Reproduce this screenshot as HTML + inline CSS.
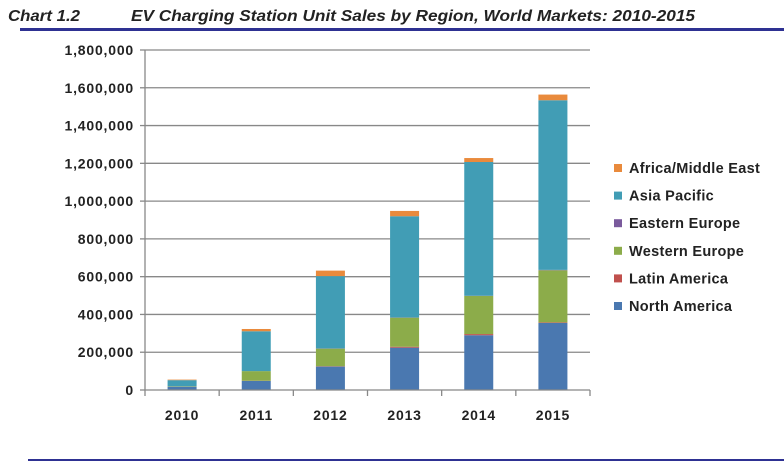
<!DOCTYPE html>
<html><head><meta charset="utf-8"><style>
body{margin:0;background:#fff;width:784px;height:462px;overflow:hidden;font-family:"Liberation Sans",Arial,sans-serif}
</style></head><body>
<svg width="784" height="462" xmlns="http://www.w3.org/2000/svg" id="chart">
<text x="8" y="21" font-size="16" font-weight="bold" font-style="italic" fill="#222" textLength="72" lengthAdjust="spacingAndGlyphs">Chart 1.2</text>
<text x="131" y="21" font-size="16" font-weight="bold" font-style="italic" fill="#222" textLength="564" lengthAdjust="spacingAndGlyphs">EV Charging Station Unit Sales by Region, World Markets: 2010-2015</text>
<rect x="20" y="28" width="764" height="3" fill="#2e3192"/>
<rect x="28" y="459" width="756" height="2" fill="#2e3192"/>
<g id="grid"></g><g id="bars"></g><g id="axes"></g><g id="legend"></g>
</svg>
<script>
const categories=["2010","2011","2012","2013","2014","2015"];
const seriesNames=["North America","Latin America","Western Europe","Eastern Europe","Asia Pacific","Africa/Middle East"];
const northAmerica=[16000,48000,124000,224000,290000,355000];
const latinAmerica=[1000,1000,2000,5000,6000,3000];
const westernEurope=[2000,51000,93000,154000,202000,276000];
const easternEurope=[0,0,1000,1000,1000,2000];
const asiaPacific=[33000,211000,383000,536000,708000,898000];
const africaMiddleEast=[3000,12000,29000,28000,21000,30000];
const yTicks=[0,200000,400000,600000,800000,1000000,1200000,1400000,1600000,1800000];
const colors=["#4a78b0","#c0504d","#8cac4a","#7a5a9c","#419db5","#e98a3c"];
const series=[northAmerica,latinAmerica,westernEurope,easternEurope,asiaPacific,africaMiddleEast];
const NS="http://www.w3.org/2000/svg";
const x0=145,x1=590,yb=390,yt=50,ymax=1800000;
const bw=(x1-x0)/categories.length;
const y=v=>yb-(v/ymax)*(yb-yt);
const xc=i=>x0+bw*(i+0.5);
function mk(t,a,p){const e=document.createElementNS(NS,t);for(const k in a)e.setAttribute(k,a[k]);p.appendChild(e);return e;}
const grid=document.getElementById('grid'),bars=document.getElementById('bars'),axes=document.getElementById('axes'),leg=document.getElementById('legend');
yTicks.forEach(v=>{
 if(v>0){const l=mk('line',{x1:x0,x2:x1,y1:y(v),y2:y(v),stroke:'#888','stroke-width':1.3},grid);
 
 }
 const tk=mk('line',{x1:x0-5,x2:x0,y1:y(v),y2:y(v),stroke:'#888','stroke-width':1.3},axes);
 
 
 const t=mk('text',{x:x0-11,y:y(v)+5,'text-anchor':'end','font-size':14,'letter-spacing':0.8,'font-weight':'bold',fill:'#222'},axes);
 t.textContent=v.toLocaleString('en-US');
 
 
});
categories.forEach((c,i)=>{
 let acc=0;
 series.forEach((s,k)=>{
  const v=s[i];if(v<=0)return;
  const r=mk('rect',{x:xc(i)-14.5,width:29,y:y(acc+v),height:y(acc)-y(acc+v),fill:colors[k]},bars);
  
  
  acc+=v;
 });
 const t=mk('text',{x:xc(i),y:yb+30,'text-anchor':'middle','font-size':14,'letter-spacing':0.8,'font-weight':'bold',fill:'#222'},axes);
 t.textContent=c;
 
 
});
for(let i=0;i<=categories.length;i++){
 const tk=mk('line',{x1:x0+bw*i,x2:x0+bw*i,y1:yb,y2:yb+6,stroke:'#888','stroke-width':1.3},axes);
 
 
}
const ya=mk('line',{x1:x0,x2:x0,y1:yt,y2:yb,stroke:'#888','stroke-width':1.3},axes);


const xa=mk('line',{x1:x0,x2:x1,y1:yb,y2:yb,stroke:'#888','stroke-width':1.3},axes);


for(let k=5;k>=0;k--){
 const yy=168+(5-k)*27.6;
 const r=mk('rect',{x:614,y:yy-4,width:8,height:8,fill:colors[k]},leg);
 
 
 const t=mk('text',{x:629,y:yy+5,'font-size':14.5,'letter-spacing':0.3,'font-weight':'bold',fill:'#222'},leg);
 t.textContent=seriesNames[k];
 
 
}
</script>
</body></html>
